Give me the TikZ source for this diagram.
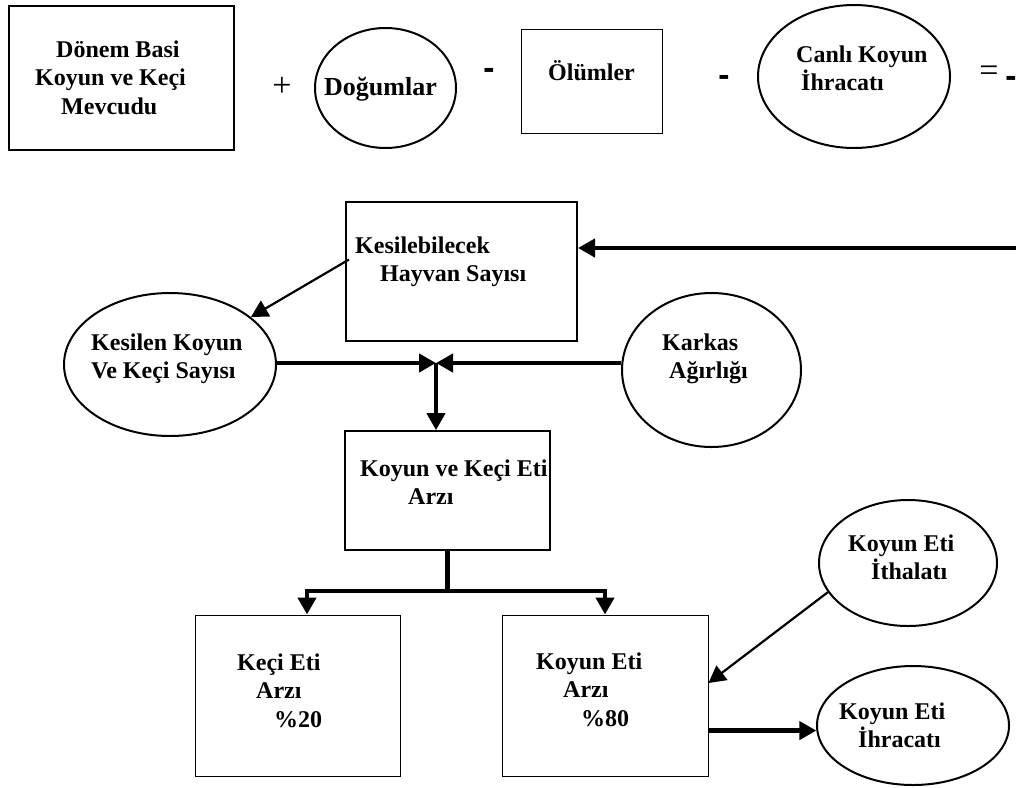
\documentclass[tikz,border=0pt]{standalone}
\usepackage{fontspec}
\setmainfont{Liberation Serif}
\newfontfamily\isaretfont{DejaVu Sans}
\usetikzlibrary{shapes, arrows.meta, positioning}

\begin{document}
\begin{tikzpicture}[x=1pt, y=-1pt, > = {Triangle[length=17pt, width=18pt]},
		kutu/.style = {draw, rectangle, inner sep=0pt},
		elips/.style = {draw, ellipse, inner sep=0pt, line width=2pt},
		yazi/.style = {font=\fontsize{24}{28.5}\selectfont\bfseries, align=left, inner sep=0pt, anchor=base west},
		isaret/.style = {font=\fontsize{34}{34}\selectfont, inner sep=0pt},
		eksi/.style = {font=\isaretfont\fontsize{28}{28}\selectfont\bfseries, inner sep=0pt},
		kalin/.style = {line width=4.5pt},
		ince/.style = {line width=2.2pt}]
			\useasboundingbox (0,0) rectangle (1016,787);
			
			\node [kutu, line width=2.3pt, minimum width=225, minimum height=144] (mevcut) at (121.5, 78) {};
			\node [elips, minimum width=141, minimum height=120] (dogum) at (385.5, 88) {};
			\node [kutu, line width=1pt, minimum width=141, minimum height=104] (olum) at (591.5, 81) {};
			\node [elips, minimum width=192, minimum height=143] (canli) at (854, 76.5) {};
			\node [kutu, line width=2pt, minimum width=231, minimum height=139] (kesilebilir) at (461.5, 271.5) {};
			\node [elips, minimum width=212, minimum height=143] (kesilen) at (170, 364.5) {};
			\node [elips, minimum width=179, minimum height=154] (karkas) at (711.5, 370) {};
			\node [kutu, line width=1.7pt, minimum width=205, minimum height=119] (arz) at (447.5, 490.5) {};
			\node [kutu, line width=1pt, minimum width=205, minimum height=161] (keci) at (297.5, 695.5) {};
			\node [kutu, line width=1pt, minimum width=206, minimum height=161] (koyun) at (605, 695.5) {};
			\node [elips, minimum width=178, minimum height=126] (ithal) at (908, 563) {};
			\node [elips, minimum width=192, minimum height=119] (ihrac) at (913, 725.5) {};
			
			% yazilar (base = son satir)
			\node [yazi] (mevcutT) at (35, 114) {\hspace*{21pt}Dönem Basi\\Koyun ve Keçi\\\hspace*{26pt}Mevcudu};
			\node [yazi, font=\fontsize{26}{30}\selectfont\bfseries] (dogumT) at (324, 95) {Doğumlar};
			\node [yazi] (olumT) at (548, 80) {Ölümler};
			\node [yazi] (canliT) at (796, 90.5) {Canlı Koyun\\\hspace*{5pt}İhracatı};
			\node [yazi] (kesilebilirT) at (355, 281.5) {Kesilebilecek\\\hspace*{25pt}Hayvan Sayısı};
			\node [yazi] (kesilenT) at (91, 378.5) {Kesilen Koyun\\Ve Keçi Sayısı};
			\node [yazi] (karkasT) at (662, 378.5) {Karkas\\\hspace*{7pt}Ağırlığı};
			\node [yazi] (arzT) at (360, 504.5) {Koyun ve Keçi Eti\\\hspace*{48pt}Arzı};
			\node [yazi] (keciT) at (237, 727) {Keçi Eti\\\hspace*{19pt}Arzı\\\hspace*{37pt}\%20};
			\node [yazi] (koyunT) at (536, 726) {Koyun Eti\\\hspace*{27pt}Arzı\\\hspace*{45pt}\%80};
			\node [yazi] (ithalT) at (848, 579.5) {Koyun Eti\\\hspace*{23pt}İthalatı};
			\node [yazi] (ihracT) at (839, 747.5) {Koyun Eti\\\hspace*{19pt}İhracatı};
			
			\node [isaret] (arti) at (282, 87) {+};
			\node [eksi] (eksi1) at (489, 73) {-};
			\node [eksi] (eksi2) at (724, 80) {-};
			\node [isaret] (esit) at (989, 74) {=};
			\node [eksi] (eksi3) at (1011, 81) {-};
			
			\coordinate (besleme) at (1016, 248);
			\coordinate (birlesme) at (436, 363);
			\coordinate (ayrilma) at (447.5, 591);
			
			\draw [->, kalin] (besleme) -- (besleme -| kesilebilir.east);
			\draw [->, ince] ([xshift=4pt, yshift=12pt]kesilebilir.west) -- (kesilen);
			\draw [->, kalin] (kesilen.east |- birlesme) -- (birlesme);
			\draw [->, kalin] (karkas.west |- birlesme) -- (birlesme);
			\draw [->, kalin] (birlesme) -- (birlesme |- arz.north);
			\draw [kalin] (arz.south) -- (ayrilma);
			\draw [->, kalin] (ayrilma) -| ([xshift=9.5pt]keci.north);
			\draw [->, kalin] (ayrilma) -| (koyun.north);
			\draw [->, ince] (ithal.200) -- ([yshift=12.5pt]koyun.east);
			\draw [->, kalin] (koyun.east |- ihrac.183) -- (ihrac.183);
		\end{tikzpicture}
\end{document}
